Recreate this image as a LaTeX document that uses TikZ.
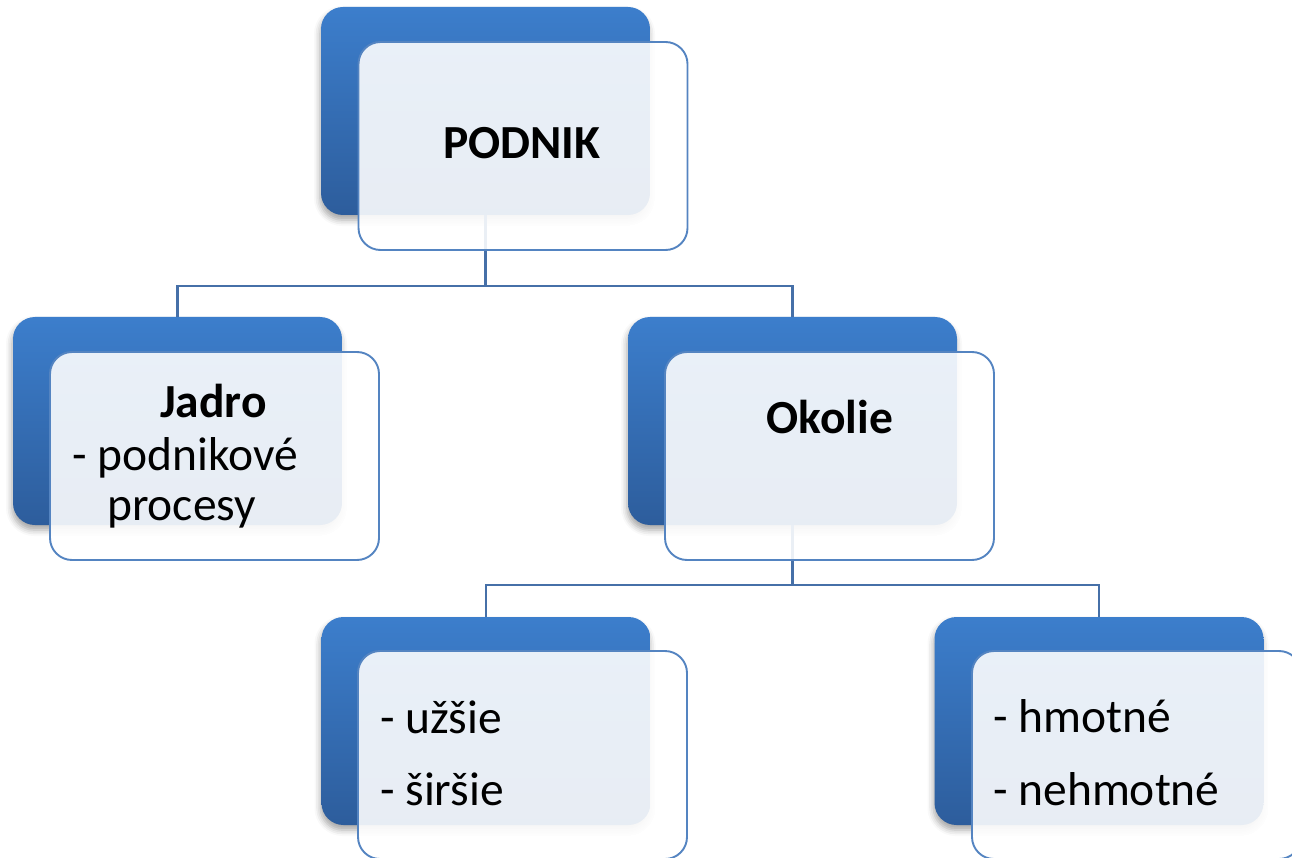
\documentclass[tikz,border=0pt]{standalone}
\usepackage{fontspec}
\setmainfont{Carlito}
\usetikzlibrary{shadows.blur}
\definecolor{bluetop}{RGB}{60,126,204}
\definecolor{bluebot}{RGB}{45,93,156}
\definecolor{edgeblue}{RGB}{84,132,193}
\definecolor{linkblue}{RGB}{70,112,168}
\tikzset{
  backbox/.style={rounded corners=22pt, top color=bluetop, bottom color=bluebot, draw=none,
    blur shadow={shadow xshift=-1pt, shadow yshift=-5pt, shadow blur radius=6pt, shadow opacity=35},
    minimum width=329pt, minimum height=208pt, inner sep=0pt},
  frontbox/.style={rounded corners=22pt, fill=white, fill opacity=0.89, draw=edgeblue,
    line width=1.9pt, minimum width=329pt, minimum height=208pt, inner sep=0pt},
  link/.style={draw=linkblue, line width=2.1pt},
  titletext/.style={font=\fontsize{47.5}{52}\selectfont\bfseries, anchor=base, inner sep=0pt},
  bodytext/.style={font=\fontsize{47.5}{52}\selectfont, anchor=base west, inner sep=0pt},
}
\begin{document}
\begin{tikzpicture}[x=1pt,y=-1pt]
\useasboundingbox (0,0) rectangle (1292,858);
\clip (0,0) rectangle (1292,858);
% back (blue) boxes
\node[backbox] (pb) at (485.5,111) {};
\node[backbox] (jb) at (177.5,421) {};
\node[backbox] (ob) at (792.5,421) {};
\node[backbox] (ub) at (486,721) {};
\node[backbox] (hb) at (1099,721) {};
% connectors
\draw[link] (pb.south) -- ++(0,71) -| (jb.north);
\draw[link] (pb.south) -- ++(0,71) -| (ob.north);
\draw[link] (ob.south) -- ++(0,60) -| (ub.north);
\draw[link] (ob.south) -- ++(0,60) -| (hb.north);
% front boxes
\node[frontbox] (pf) at (523,146) {};
\node[frontbox] (jf) at (214.5,456) {};
\node[frontbox] (of) at (829.5,456) {};
\node[frontbox] (uf) at (522.5,755) {};
\node[frontbox] (hf) at (1136.5,755) {};
% texts
\node[titletext] (t1) at (522,159) {PODNIK};
\node[titletext] (t2) at (213.5,417) {Jadro};
\node[bodytext] (t3) at (72,470) {- podnikové};
\node[bodytext] (t4) at (107,520) {procesy};
\node[titletext] (t5) at (830,433) {Okolie};
\node[bodytext] (t6) at (380,733) {- užšie};
\node[bodytext] (t7) at (380,805) {- širšie};
\node[bodytext] (t8) at (993,732) {- hmotné};
\node[bodytext] (t9) at (993,805) {- nehmotné};
\end{tikzpicture}
\end{document}
